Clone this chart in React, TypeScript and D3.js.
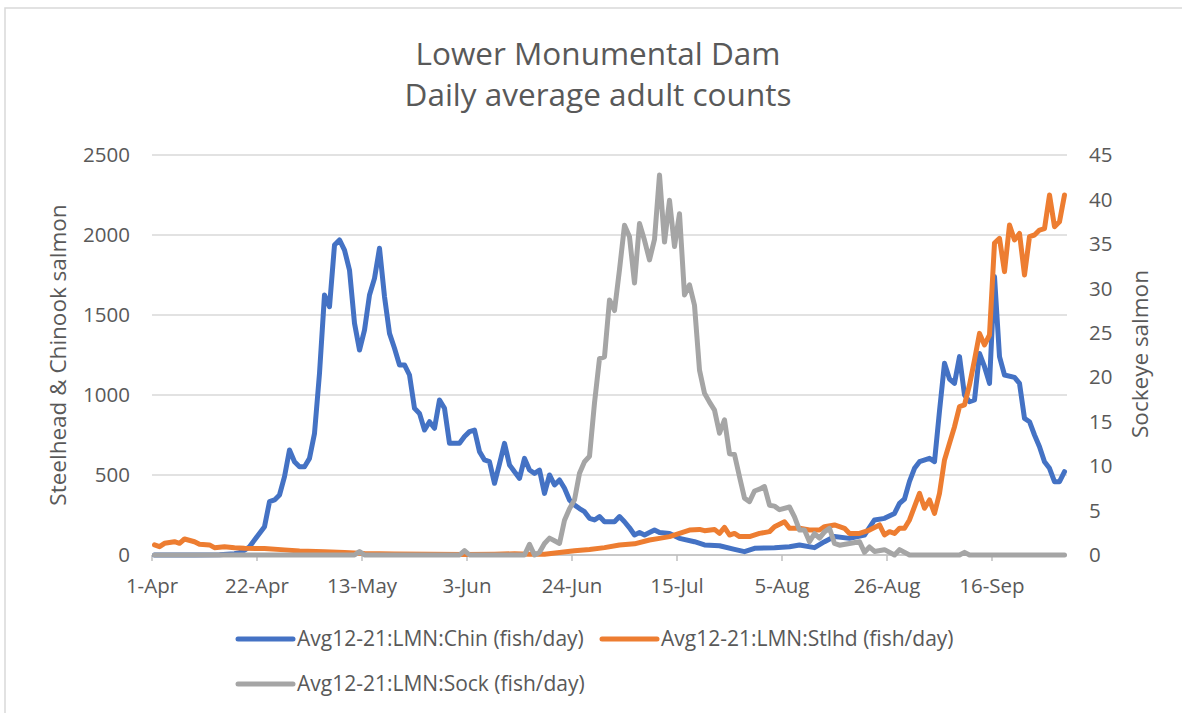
import React from "react";
import * as d3 from "d3";

// days counted from 1-Apr
const chinook: [number, number][] = [
  [0, 0], [8, 0], [13, 2], [16, 8], [17, 15], [18, 30], [19, 52], [20, 94], [22, 177], [23, 333], [24, 344],
  [25, 375], [26, 490], [27, 656], [28, 583], [29, 552], [30, 552], [31, 604], [32, 760], [33, 1135],
  [34, 1625], [35, 1552], [36, 1937], [37, 1969], [38, 1906], [39, 1781], [40, 1448], [41, 1281],
  [42, 1406], [43, 1625], [44, 1729], [45, 1917], [46, 1615], [47, 1385], [48, 1292], [49, 1188],
  [50, 1188], [51, 1125], [52, 917], [53, 885], [54, 781], [55, 833], [56, 792], [57, 969], [58, 917],
  [59, 698], [60, 698], [61, 698], [62, 740], [63, 771], [64, 781], [65, 646], [66, 594], [67, 583],
  [68, 448], [69, 570], [70, 698], [71, 563], [72, 520], [73, 479], [74, 604], [75, 531], [76, 510],
  [77, 531], [78, 385], [79, 500], [80, 438], [81, 469], [82, 417], [83, 344], [84, 313], [85, 290],
  [86, 271], [87, 229], [88, 219], [89, 240], [90, 208], [91, 208], [92, 208], [93, 240], [94, 208],
  [95, 170], [96, 125], [97, 140], [98, 125], [100, 156], [101, 140], [103, 135], [105, 104],
  [108, 83], [110, 63], [113, 58], [116, 35], [118, 21], [120, 42], [124, 46], [127, 52], [129, 63],
  [132, 46], [134, 83], [136, 115], [139, 104], [142, 125], [144, 219], [146, 229], [148, 260],
  [149, 323], [150, 350], [151, 460], [152, 542], [153, 583], [155, 604], [156, 583], [157, 900],
  [158, 1198], [159, 1100], [160, 1073], [161, 1240], [162, 1000], [163, 958], [164, 969], [165, 1260],
  [166, 1177], [167, 1073], [168, 1740], [169, 1240], [170, 1125], [172, 1110], [173, 1073], [174, 854],
  [175, 833], [176, 750], [177, 677], [178, 583], [179, 542], [180, 458], [181, 458], [182, 521],
];

const steelhead: [number, number][] = [
  [0, 63], [1, 52], [2, 73], [4, 83], [5, 73], [6, 100], [8, 83], [9, 67], [11, 63], [12, 46],
  [14, 52], [16, 46], [18, 42], [22, 40], [26, 32], [29, 25], [34, 20], [38, 15], [42, 10], [48, 7],
  [55, 4], [62, 3], [68, 5], [72, 8], [75, 5], [78, 5], [84, 27], [87, 35], [90, 46], [93, 63],
  [96, 70], [99, 94], [101, 104], [103, 115], [105, 135], [107, 156], [109, 160], [110, 152],
  [112, 160], [113, 135], [114, 173], [115, 125], [116, 135], [117, 115], [119, 115], [121, 135],
  [123, 146], [124, 177], [126, 208], [127, 167], [129, 167], [131, 156], [133, 156], [134, 177],
  [136, 188], [138, 167], [139, 135], [141, 135], [143, 156], [145, 188], [146, 125], [147, 146],
  [148, 135], [149, 167], [150, 167], [151, 219], [152, 302], [153, 385], [154, 292], [155, 344],
  [156, 260], [157, 385], [158, 594], [159, 698], [160, 802], [161, 927], [162, 938], [163, 1063],
  [164, 1219], [165, 1385], [166, 1313], [167, 1375], [168, 1950], [169, 1979], [170, 1771],
  [171, 2063], [172, 1969], [173, 2010], [174, 1750], [175, 1990], [176, 2000], [177, 2031],
  [178, 2040], [179, 2250], [180, 2052], [181, 2083], [182, 2250],
];

const sockeye: [number, number][] = [
  [0, 0], [40, 0], [41, 0.4], [42, 0], [61, 0], [62, 0.5], [63, 0], [74, 0], [75, 1.2], [76, 0],
  [77, 0.3], [78, 1.3], [79, 1.9], [80, 1.6], [81, 1.3], [82, 3.9], [83, 5.2], [84, 6.2], [85, 9.2],
  [86, 10.5], [87, 11.1], [88, 17.1], [89, 22.1], [90, 22.3], [91, 28.7], [92, 27.5], [93, 32.1],
  [94, 37.1], [95, 35.8], [96, 30.6], [97, 37.3], [98, 35.4], [99, 33.2], [100, 35.5], [101, 42.75],
  [102, 35.2], [103, 39.9], [104, 34.7], [105, 38.4], [106, 29.25], [107, 30.4], [108, 28.1],
  [109, 20.8], [110, 18.2], [111, 17.2], [112, 16.3], [113, 13.7], [114, 15.2], [115, 11.4],
  [116, 11.3], [117, 8.8], [118, 6.4], [119, 6.0], [120, 7.2], [121, 7.4], [122, 7.7], [123, 5.6],
  [124, 5.5], [125, 5.1], [127, 5.4], [128, 4.3], [129, 2.8], [130, 2.8], [131, 1.5], [132, 2.4],
  [133, 1.9], [134, 2.6], [135, 3.0], [136, 1.3], [137, 1.1], [139, 1.3], [141, 1.5], [142, 0.3],
  [143, 0.9], [144, 0.4], [146, 0.6], [148, 0], [149, 0.6], [151, 0], [161, 0], [162, 0.3], [163, 0],
  [182, 0],
];

const leftTicks = [0, 500, 1000, 1500, 2000, 2500];
const rightTicks = [0, 5, 10, 15, 20, 25, 30, 35, 40, 45];
const xTickDays = [0, 21, 42, 63, 84, 105, 126, 147, 168];

const titleLines = ["Lower Monumental Dam", "Daily average adult counts"];
const leftTitle = "Steelhead & Chinook salmon";
const rightTitle = "Sockeye salmon";
const seriesNames = [
  "Avg12-21:LMN:Chin (fish/day)",
  "Avg12-21:LMN:Stlhd (fish/day)",
  "Avg12-21:LMN:Sock (fish/day)",
];

const BLUE = "#4472C4";
const ORANGE = "#ED7D31";
const GRAY = "#A5A5A5";
const TEXT = "#595959";
const GRID = "#D9D9D9";
const FONT = "'Open Sans', sans-serif";

export default function App() {
  const start = new Date(Date.UTC(2021, 3, 1));
  const end = new Date(Date.UTC(2021, 9, 1));
  const x = d3.scaleUtc().domain([start, end]).range([152, 1067]);
  const yL = d3.scaleLinear().domain([0, 2500]).range([555, 155]);
  const yR = d3.scaleLinear().domain([0, 45]).range([555, 155]);
  const fmt = d3.utcFormat("%-d-%b");

  // each day sits in the middle of its slot (Excel date axis)
  const px = (d: number) => x(d3.utcHour.offset(d3.utcDay.offset(start, d), 12));

  const lineL = d3
    .line<[number, number]>()
    .x((d) => px(d[0]))
    .y((d) => yL(d[1]));
  const lineR = d3
    .line<[number, number]>()
    .x((d) => px(d[0]))
    .y((d) => yR(d[1]));

  const [x0, x1] = x.range();

  const legend = [
    { name: seriesNames[0], color: BLUE, lx: 238, ly: 639 },
    { name: seriesNames[1], color: ORANGE, lx: 602, ly: 639 },
    { name: seriesNames[2], color: GRAY, lx: 238, ly: 684 },
  ];

  return (
    <svg
      width={1182}
      height={713}
      style={{ position: "absolute", left: 0, top: 0, background: "#fff" }}
      fontFamily={FONT}
    >
      <rect x={5} y={8} width={1200} height={720} fill="#fff" stroke={GRID} strokeWidth={1.5} />

      {titleLines.map((t, i) => (
        <text key={t} x={598} y={65 + i * 41} textAnchor="middle" fontSize={31.5} fill={TEXT}>
          {t}
        </text>
      ))}

      {/* gridlines */}
      {leftTicks.map((t) => (
        <line key={t} x1={x0} x2={x1} y1={yL(t)} y2={yL(t)} stroke={GRID} strokeWidth={1.5} />
      ))}
      <line x1={x0} x2={x1} y1={yL(0)} y2={yL(0)} stroke="#BFBFBF" strokeWidth={1.5} />
      {xTickDays.map((d) => (
        <line key={d} x1={x(d3.utcDay.offset(start, d))} x2={x(d3.utcDay.offset(start, d))} y1={555} y2={561} stroke="#BFBFBF" strokeWidth={1.5} />
      ))}

      {/* tick labels */}
      {leftTicks.map((t) => (
        <text key={t} x={130} y={yL(t)} dy="0.35em" textAnchor="end" fontSize={20.5} fill={TEXT}>
          {t}
        </text>
      ))}
      {rightTicks.map((t) => (
        <text key={t} x={1089} y={yR(t)} dy="0.35em" textAnchor="start" fontSize={20.5} fill={TEXT}>
          {t}
        </text>
      ))}
      {xTickDays.map((d) => {
        const dt = d3.utcDay.offset(start, d);
        return (
          <text key={d} x={x(dt)} y={593} textAnchor="middle" fontSize={20.5} fill={TEXT}>
            {fmt(dt)}
          </text>
        );
      })}

      {/* axis titles */}
      <text transform="translate(58,355) rotate(-90)" textAnchor="middle" dy="0.35em" fontSize={22.5} fill={TEXT}>
        {leftTitle}
      </text>
      <text transform="translate(1140,354) rotate(-90)" textAnchor="middle" dy="0.35em" fontSize={22.5} fill={TEXT}>
        {rightTitle}
      </text>

      {/* series */}
      <path d={lineL(chinook) ?? ""} fill="none" stroke={BLUE} strokeWidth={5} strokeLinejoin="round" strokeLinecap="round" />
      <path d={lineL(steelhead) ?? ""} fill="none" stroke={ORANGE} strokeWidth={5} strokeLinejoin="round" strokeLinecap="round" />
      <path d={lineR(sockeye) ?? ""} fill="none" stroke={GRAY} strokeWidth={5} strokeLinejoin="round" strokeLinecap="round" />

      {/* legend */}
      {legend.map((l) => (
        <g key={l.name}>
          <line x1={l.lx} x2={l.lx + 55} y1={l.ly} y2={l.ly} stroke={l.color} strokeWidth={5} strokeLinecap="round" />
          <text x={l.lx + 59} y={l.ly} dy="0.35em" fontSize={21} fill={TEXT}>
            {l.name}
          </text>
        </g>
      ))}
    </svg>
  );
}
